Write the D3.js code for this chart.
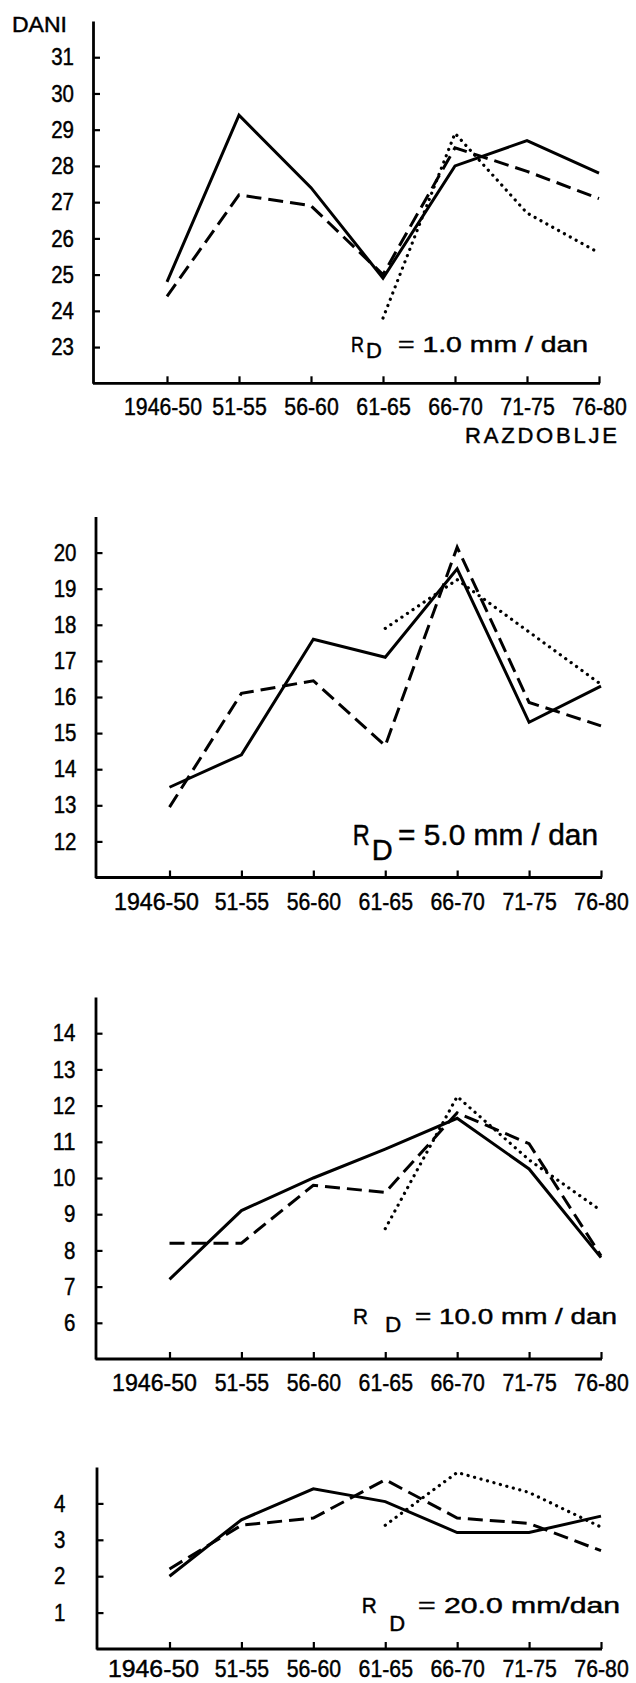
<!DOCTYPE html>
<html lang="hr">
<head>
    <meta charset="UTF-8">
    <title>Broj dana s oborinom RD</title>

    <script src="https://d3js.org/d3.v7.min.js"></script>

    <style>
        body {
            margin: 0;
            background: #fff;
        }
        svg {
            display: block;
        }
        .lbl {
            font-family: "Liberation Sans", "DejaVu Sans", Arial, sans-serif;
            fill: #000;
            stroke: #000;
            stroke-width: 0.45px;
        }
    </style>
</head>
<body>

    <script>

        var periods = ['1946-50', '51-55', '56-60', '61-65', '66-70', '71-75', '76-80']

        // RD = 1.0 mm/dan
        var solid1  = [24.8, 29.4, 27.4, 24.9, 28.0, 28.7, 27.8]
        var dashed1 = [24.4, 27.2, 26.9, 25.0, 28.5, 27.85, 27.1]
        var dotted1 = [null, null, null, 23.8, 28.9, 26.7, 25.6]
        var ticks1  = [23, 24, 25, 26, 27, 28, 29, 30, 31]

        // RD = 5.0 mm/dan
        var solid2  = [13.5, 14.4, 17.6, 17.1, 19.55, 15.3, 16.3]
        var dashed2 = [12.95, 16.1, 16.45, 14.65, 20.15, 15.85, 15.2]
        var dotted2 = [null, null, null, 17.9, 19.25, 17.8, 16.35]
        var ticks2  = [12, 13, 14, 15, 16, 17, 18, 19, 20]

        // RD = 10.0 mm/dan
        var solid3  = [7.2, 9.1, 10.0, 10.8, 11.65, 10.25, 7.8]
        var dashed3 = [8.2, 8.2, 9.8, 9.6, 11.8, 10.95, 7.85]
        var dotted3 = [null, null, null, 8.6, 12.25, 10.5, 9.1]
        var ticks3  = [6, 7, 8, 9, 10, 11, 12, 13, 14]

        // RD = 20.0 mm/dan
        var solid4  = [2.0, 3.55, 4.4, 4.05, 3.2, 3.2, 3.65]
        var dashed4 = [2.2, 3.4, 3.6, 4.65, 3.6, 3.45, 2.7]
        var dotted4 = [null, null, null, 3.4, 4.85, 4.3, 3.35]
        var ticks4  = [1, 2, 3, 4]

        var rdLabels = ['= 1.0 mm / dan', '= 5.0 mm / dan', '= 10.0 mm / dan', '= 20.0 mm/dan']

        var w = 636, h = 1683

        // where each panel sits on the page
        var panels = [
            {solid: solid1, dashed: dashed1, dotted: dotted1, ticks: ticks1, yDom: [22, 32], yRange: [383.3, 21],
             axisX: 93, xRange: [167, 599], pad: 19, xPad: 15, firstW: 78, firstDx: -4.5,
             lab: {rx: 351, ry: 351.7, rw: 13, dx: 366, dy: 358.3, ex: 398, end: 588, size: 22}},
            {solid: solid2, dashed: dashed2, dotted: dotted2, ticks: ticks2, yDom: [11, 21], yRange: [877.5, 516.5],
             axisX: 95.5, xRange: [169.5, 601], pad: 19, xPad: 15, firstW: 85, firstDx: -13.5,
             lab: {rx: 352.7, ry: 845, rw: 17, dx: 371.7, dy: 860, ex: 398, end: 598, size: 29}},
            {solid: solid3, dashed: dashed3, dotted: dotted3, ticks: ticks3, yDom: [5, 15], yRange: [1359, 997],
             axisX: 95.5, xRange: [169.5, 601], pad: 20, xPad: 15, firstW: 85, firstDx: -15.5,
             lab: {rx: 353, ry: 1324.3, rw: 15, dx: 385, dy: 1332, ex: 415, end: 617, size: 22.5}},
            {solid: solid4, dashed: dashed4, dotted: dotted4, ticks: ticks4, yDom: [0, 5], yRange: [1649, 1467],
             axisX: 96.5, xRange: [169.5, 601], pad: 31, xPad: 11, firstW: 91, firstDx: -16.5,
             lab: {rx: 361.7, ry: 1613.3, rw: 15, dx: 389.3, dy: 1631, ex: 418, end: 620, size: 22}}
        ]

        // squeeze numbers into the narrow look of the original lettering
        function narrow(sel, digitW, dashW) {
            sel.each(function() {
                var t = this.textContent, len = 0
                for (var c of t) len += (c == '-') ? dashW : digitW
                d3.select(this)
                    .attr('textLength', len)
                    .attr('lengthAdjust', 'spacingAndGlyphs')
            })
        }

        var svg = d3.select('body')
                    .append('svg')
                    .attr('width', w)
                    .attr('height', h)

        panels.forEach(function(p, n) {

            var xScale = d3.scalePoint()
                        .domain(periods)
                        .range(p.xRange)

            var yScale = d3.scaleLinear()
                        .domain(p.yDom)
                        .range(p.yRange)

            var g = svg.append('g')

            //y axis, ticks pointing inside
            var yAxis = d3.axisLeft(yScale)
                        .tickValues(p.ticks)
                        .tickFormat(d3.format('d'))
                        .tickSizeInner(-7)
                        .tickSizeOuter(0)
                        .tickPadding(p.pad)

            var ya = g.append('g')
                .attr('transform', 'translate(' + p.axisX + ',0)')
                .call(yAxis)
            ya.select('.domain').attr('stroke-width', 2.8)
            ya.selectAll('.tick line').attr('stroke-width', 2.2)
            ya.selectAll('.tick text')
                .attr('class', 'lbl')
                .attr('font-size', 24)
                .call(narrow, 11.4, 8)

            //x axis, ticks pointing up
            var xAxis = d3.axisBottom(xScale)
                        .tickSizeInner(-7)
                        .tickSizeOuter(0)
                        .tickPadding(p.xPad)

            var y0 = yScale(p.yDom[0])
            var xa = g.append('g')
                .attr('transform', 'translate(0,' + y0 + ')')
                .call(xAxis)
            xa.select('.domain').remove()
            xa.selectAll('.tick line').attr('stroke-width', 2.2)
            xa.selectAll('.tick text')
                .attr('class', 'lbl')
                .attr('font-size', 24)
                .call(narrow, 11.6, 8)
            xa.select('.tick text')
                .attr('textLength', p.firstW)
                .attr('dx', p.firstDx)

            g.append('line')
                .attr('x1', p.axisX)
                .attr('x2', xScale(periods[periods.length - 1]) + 1)
                .attr('y1', y0)
                .attr('y2', y0)
                .attr('stroke', '#000')
                .attr('stroke-width', 2.8)

            //the three lines
            var line = d3.line()
                        .defined(function(d) { return d != null })
                        .x(function(d, i) { return xScale(periods[i]) })
                        .y(function(d) { return yScale(d) })

            g.append('path')
                .attr('d', line(p.solid))
                .attr('fill', 'none')
                .attr('stroke', '#000')
                .attr('stroke-width', 3)

            g.append('path')
                .attr('d', line(p.dashed))
                .attr('fill', 'none')
                .attr('stroke', '#000')
                .attr('stroke-width', 3)
                .attr('stroke-dasharray', '15,7')

            g.append('path')
                .attr('d', line(p.dotted))
                .attr('fill', 'none')
                .attr('stroke', '#000')
                .attr('stroke-width', 3.2)
                .attr('stroke-linecap', 'round')
                .attr('stroke-dasharray', '0.1,6.6')

            //R_D label
            g.append('text')
                .attr('class', 'lbl')
                .attr('x', p.lab.rx)
                .attr('y', p.lab.ry)
                .attr('font-size', p.lab.size)
                .attr('textLength', p.lab.rw)
                .attr('lengthAdjust', 'spacingAndGlyphs')
                .text('R')
            g.append('text')
                .attr('class', 'lbl')
                .attr('x', p.lab.dx)
                .attr('y', p.lab.dy)
                .attr('font-size', p.lab.size)
                .text('D')
            g.append('text')
                .attr('class', 'lbl')
                .attr('x', p.lab.ex)
                .attr('y', p.lab.ry)
                .attr('font-size', p.lab.size)
                .attr('textLength', p.lab.end - p.lab.ex)
                .attr('lengthAdjust', 'spacingAndGlyphs')
                .text(rdLabels[n])
        })

        svg.append('text')
            .attr('class', 'lbl')
            .attr('x', 12)
            .attr('y', 32)
            .attr('font-size', 22)
            .attr('textLength', 55)
            .attr('lengthAdjust', 'spacingAndGlyphs')
            .text('DANI')

        svg.append('text')
            .attr('class', 'lbl')
            .attr('x', 465)
            .attr('y', 443)
            .attr('font-size', 22)
            .attr('textLength', 152)
            .attr('lengthAdjust', 'spacing')
            .text('RAZDOBLJE')

    </script>

</body>
</html>
